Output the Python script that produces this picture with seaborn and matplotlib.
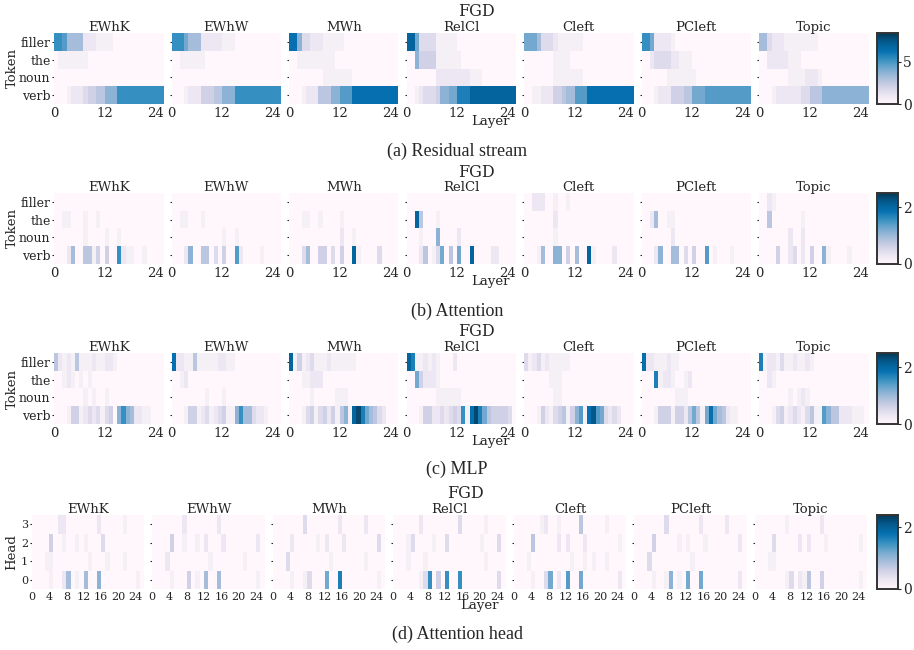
import numpy as np
import pandas as pd
import matplotlib
matplotlib.use("Agg")
import matplotlib.pyplot as plt
import seaborn as sns

# ---- data ----
constructions = ["EWhK", "EWhW", "MWh", "RelCl", "Cleft", "PCleft", "Topic"]
tokens = ["filler", "the", "noun", "verb"]
heads = ["3", "2", "1", "0"]
n_layers = 26

# each string is one heatmap row; one hex digit per layer = value in 1/16 of the colour max
# (trailing zeros omitted)
resid_codes = [
    ["aa966662221111", "01111111", "0", "000122234455777aaaaaaaaaaa"],
    ["aaa866622222111", "00111111", "0", "000122244455777aaaaaaaaaaa"],
    ["cc73322211111", "00111111111", "000000001111111", "000122255577999ccccccccccc"],
    ["dd833331111100", "0074444111111", "000000022222222111", "001233347788bbbddddddddddd"],
    ["88863332111111", "00000001111", "00000001111111", "001122244566999ccccccccccc"],
    ["aa8222210", "002333322111", "0000001111111", "00012224445588899999999999"],
    ["66322211111111", "0022222111", "000000011112221", "00012222223355577777777777"],
]
attn_codes = [
    ["0", "00110001001", "0000000100001001", "000260055140400a211001"],
    ["0", "00110001", "0000000000001001", "0002700550304009200001"],
    ["0", "0001100100001", "0000000000002001", "000360044030400d100003"],
    ["0", "00d50001", "0001000700002", "000250138050800d000022"],
    ["00222001001", "00000002", "00000001", "000160077040600d100002"],
    ["0", "00260011", "00000002", "0002700660304009010001"],
    ["0021", "00500000001", "00000002002", "0000400230204007100001"],
]
mlp_codes = [
    ["521215111211221", "001210101", "0000000101001", "0001441232313407a762211"],
    ["c22115111112211", "0012", "0000000010001", "0001441231234117a663221"],
    ["d141231112111111", "00011222", "00000100000111", "000134134241571dfb86532"],
    ["db1121210002", "00842221", "0000000111111", "0001442232343a1cfb8544443"],
    ["31231211111", "000000111", "000000011", "000142134514791ce983232"],
    ["c22111211", "000b12210012", "00000000111", "0001444144258518c865211"],
    ["b122131121121", "0021", "000000010121", "0001341232135119755222111"],
]
head_codes = [
    ["0000002200000002000001", "00004001001010003", "0001100000000100010001", "0000100260106007000000001"],
    ["0000000200000002", "0000400100102000200000002", "0002000000000100000001", "0000100040106006000000001"],
    ["0000000300000002000002", "0000200000102000200000003", "0003000000000100000001", "000010013000800b000000001"],
    ["0000002000000003000001", "0001300001003000000010003", "0001000100000000000001", "00000013a040a00a000000003"],
    ["0000001200100005000001", "0000500000202000200000001", "0001000000000100101001", "0000100380209008000000002"],
    ["0000000300000002000002", "0000400000101000100000002", "00030000000001", "0000100170108008000000002"],
    ["0000000100000002", "0000300000202000100000001", "00011", "0000000130215004000000001"],
]

sns.set_style("white")
plt.rcParams["font.family"] = ["DejaVu Serif"]

W, H = 914, 650
fig = plt.figure(figsize=(W / 100, H / 100), dpi=100)


def px_axes(x, y, w, h):
    return fig.add_axes([x / W, 1 - (y + h) / H, w / W, h / H])


def px_text(x, y, s, **kw):
    fig.text(x / W, 1 - y / H, s, ha="center", va="center", **kw)


def to_frame(panel, rows, vmax):
    vals = [[int(c, 16) * vmax / 16 for c in code.ljust(n_layers, "0")] for code in panel]
    return pd.DataFrame(vals, index=rows, columns=range(n_layers))


blocks = [
    dict(codes=resid_codes, rows=tokens, vmax=8.4, cticks=[0, 5], ylabel="Token",
         caption="(a) Residual stream", top=33, cap_y=151),
    dict(codes=attn_codes, rows=tokens, vmax=2.5, cticks=[0, 2], ylabel="Token",
         caption="(b) Attention", top=193, cap_y=311),
    dict(codes=mlp_codes, rows=tokens, vmax=2.5, cticks=[0, 2], ylabel="Token",
         caption="(c) MLP", top=353, cap_y=469),
    dict(codes=head_codes, rows=heads, vmax=2.4, cticks=[0, 2], ylabel="Head",
         caption="(d) Attention head", top=515, cap_y=634),
]

for b in blocks:
    is_head = b["rows"] is heads
    if is_head:
        left, step, width, height = 31.7, 120.5, 112.5, 74
        xticks = list(range(0, 25, 4))
        tsize, ysize = 8, 8
        fgd_x, layer_x = 465, 479
    else:
        left, step, width, height = 54, 117.5, 109.5, 71
        xticks = [0, 12, 24]
        tsize, ysize = 9.5, 9
        fgd_x, layer_x = 476, 490
    top = b["top"]
    cax = px_axes(876.5, top, 21.5, height)

    for k, name in enumerate(constructions):
        ax = px_axes(left + k * step, top, width, height)
        df = to_frame(b["codes"][k], b["rows"], b["vmax"])
        last = k == len(constructions) - 1
        sns.heatmap(df, ax=ax, cmap="PuBu", vmin=0, vmax=b["vmax"],
                    cbar=last, cbar_ax=cax if last else None,
                    cbar_kws={"ticks": b["cticks"]} if last else None,
                    xticklabels=False, yticklabels=False)
        ax.set_title(name, fontsize=9.5, pad=1.5)
        ax.set_xticks(xticks)
        ax.set_xticklabels([str(t) for t in xticks], rotation=0)
        ax.set_yticks(np.arange(len(b["rows"])) + 0.5)
        ax.set_yticklabels(b["rows"] if k == 0 else [], rotation=0)
        ax.tick_params(axis="x", length=0, pad=2.5, labelsize=tsize)
        ax.tick_params(axis="y", length=1.5, width=0.8, pad=1, labelsize=ysize, left=True)
        ax.set_xlabel("")
        ax.set_ylabel("")

    cbar = cax.collections[0].colorbar if cax.collections else None
    cax.tick_params(labelsize=10, length=2, width=0.8, pad=1.5)
    for sp in cax.spines.values():
        sp.set_visible(True)
        sp.set_linewidth(1.2)
        sp.set_edgecolor("#333333")

    px_text(fgd_x, top - 21, "FGD", fontsize=11.5)
    px_text(layer_x, top + height + 17, "Layer", fontsize=9.5)
    px_text(12, top + height / 2, b["ylabel"], fontsize=9.5, rotation=90)
    px_text(457, b["cap_y"], b["caption"], fontsize=13, family="Liberation Serif")

fig.savefig("out.png", dpi=100)
